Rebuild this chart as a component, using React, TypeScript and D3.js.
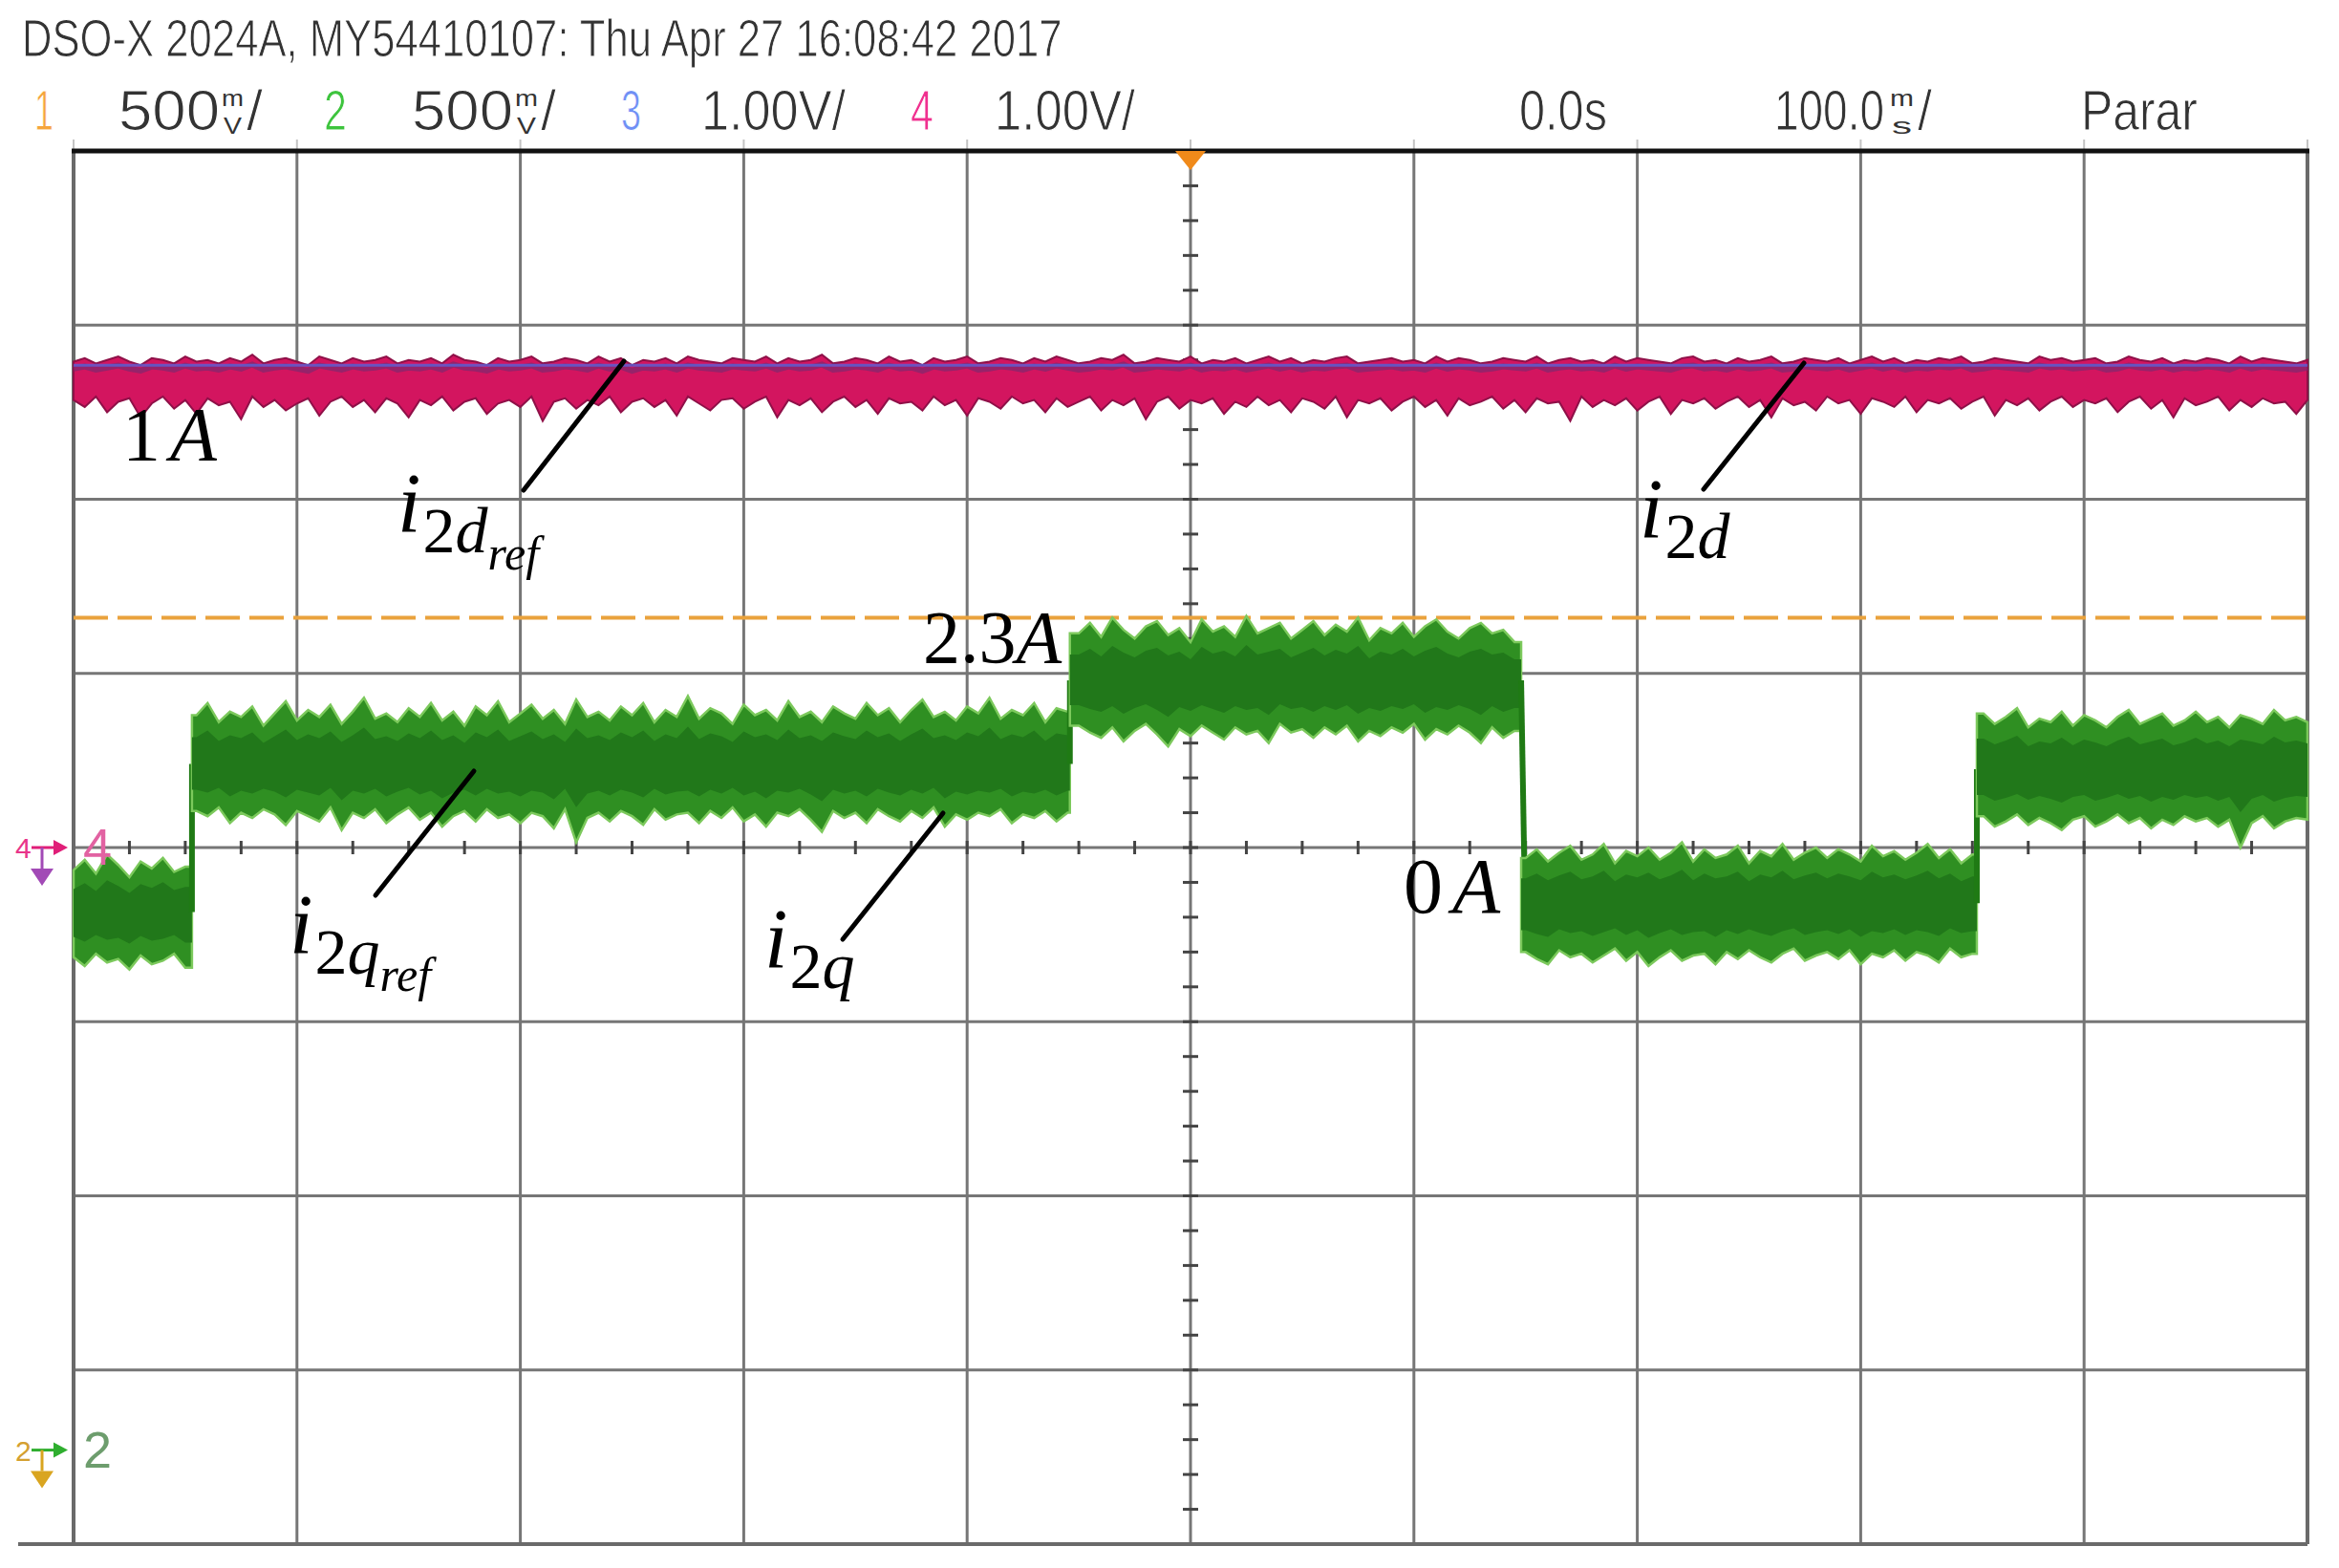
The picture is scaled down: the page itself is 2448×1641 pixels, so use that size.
import React, { useEffect, useRef } from 'react';
import * as d3 from 'd3';

const W = 2448;
const H = 1641;

// horizontal: 100 ms/div, 0.0 s at the centre of the screen
const gridTimes = [-400, -300, -200, -100, 0, 100, 200, 300, 400];
// vertical: divisions from the centre line
const gridDivs = [-3, -2, -1, 0, 1, 2, 3];

// ch2 (green, i2q): step levels between the break times (ms), in div
const greenBreaks = [-500, -447, -54, 148, 352, 500];
const greenLevels = [-0.37, 0.48, 0.96, -0.32, 0.45];
// noise envelope above / below the level, 1/100 div, one value every 5 ms
const greenUp = [
  24, 30, 22, 33, 27, 20, 29, 25, 31, 23,
  26, 28, 35, 24, 30, 27, 33, 22, 29, 36,
  25, 31, 27, 34, 23, 30, 38, 26, 29, 24,
  32, 27, 35, 25, 30, 22, 33, 28, 36, 24,
  29, 34, 26, 31, 23, 37, 27, 30, 25, 33,
  28, 35, 24, 31, 27, 39, 26, 32, 29, 23,
  34, 28, 31, 25, 36, 27, 30, 24, 33, 29,
  26, 35, 28, 32, 24, 31, 37, 27, 30, 25,
  33, 29, 38, 26, 31, 28, 35, 24, 32, 30,
  27, 33, 25, 36, 29, 24, 31, 34, 26, 30,
  22, 35, 28, 31, 25, 37, 27, 30, 33, 24,
  29, 34, 26, 32, 28, 36, 23, 30, 27, 33,
  25, 31, 35, 28, 24, 30, 33, 27, 29, 22,
  26, 31, 24, 29, 33, 25, 28, 34, 23, 30,
  27, 32, 25, 29, 35, 24, 31, 26, 28, 33,
  23, 30, 27, 34, 25, 29, 32, 26, 31, 28,
  24, 33, 27, 30, 25, 29, 34, 26, 31, 23,
  28, 32, 26, 30, 35, 24, 29, 27, 33, 25,
  31, 28, 24, 30, 34, 26, 29, 32, 25, 28,
  33, 27, 30, 24, 31, 29, 26, 34, 28, 30,
  27,
];
const greenDown = [
  26, 31, 24, 29, 27, 33, 25, 30, 28, 24,
  32, 27, 30, 25, 34, 28, 31, 26, 29, 35,
  27, 30, 33, 25, 38, 28, 31, 26, 34, 29,
  25, 32, 28, 36, 30, 27, 33, 26, 31, 29,
  34, 28, 30, 37, 26, 45, 31, 28, 33, 27,
  30, 35, 26, 32, 29, 28, 34, 27, 31, 25,
  33, 29, 36, 28, 30, 26, 32, 39, 27, 31,
  28, 34, 26, 30, 33, 27, 31, 25, 36, 29,
  32, 28, 30, 26, 34, 29, 31, 27, 33, 28,
  26, 30, 33, 27, 35, 29, 25, 31, 38, 28,
  32, 26, 30, 34, 27, 31, 29, 36, 25, 30,
  28, 33, 27, 31, 26, 35, 29, 32, 27, 30,
  25, 34, 28, 31, 26, 30, 36, 27, 33, 29,
  28, 32, 35, 27, 31, 29, 34, 30, 26, 33,
  28, 36, 31, 27, 33, 30, 29, 35, 28, 32,
  27, 31, 34, 29, 26, 33, 30, 28, 32, 27,
  35, 29, 31, 27, 33, 28, 30, 34, 26, 31,
  29, 27, 33, 30, 26, 32, 28, 31, 35, 29,
  27, 33, 30, 26, 31, 28, 34, 29, 32, 27,
  30, 28, 33, 29, 45, 31, 27, 34, 30, 28,
  29,
];

// ch4 (pink, i2d)
const pinkLevel = 2.69;
const pinkUp = [
  10, 12, 9, 11, 13, 10, 8, 12, 11, 9,
  13, 10, 11, 9, 12, 10, 14, 9, 11, 12,
  10, 8, 13, 11, 9, 12, 10, 11, 13, 9,
  11, 10, 12, 9, 14, 11, 10, 8, 12, 10,
  11, 13, 9, 10, 12, 11, 9, 13, 10, 12,
  8, 11, 10, 12, 9, 13, 11, 10, 9, 12,
  11, 10, 13, 9, 12, 10, 11, 14, 9, 10,
  12, 11, 9, 13, 10, 11, 8, 12, 10, 11,
  13, 9, 10, 12, 11, 9, 12, 10, 13, 11,
  9, 10, 12, 11, 14, 9, 10, 12, 11, 10,
  13, 9, 11, 10, 12, 9, 11, 13, 10, 12,
  9, 11, 10, 12, 13, 9, 10, 11, 12, 10,
  11, 9, 13, 10, 12, 11, 9, 10, 12, 11,
  10, 13, 9, 11, 12, 10, 11, 9, 13, 10,
  12, 11, 10, 9, 12, 13, 10, 11, 9, 12,
  10, 11, 13, 9, 10, 12, 11, 10, 12, 9,
  11, 13, 10, 12, 9, 11, 10, 12, 11, 13,
  9, 10, 12, 11, 10, 9, 13, 11, 12, 10,
  11, 12, 9, 10, 13, 11, 10, 12, 9, 11,
  10, 12, 11, 9, 13, 10, 12, 11, 10, 9,
  11,
];
const pinkDown = [
  12, 16, 10, 19, 13, 11, 22, 14, 10, 17,
  12, 20, 11, 15, 13, 23, 10, 16, 12, 18,
  14, 11, 21, 13, 10, 16, 12, 19, 11, 14,
  22, 12, 15, 10, 18, 13, 11, 20, 14, 12,
  16, 10, 24, 13, 11, 17, 12, 15, 10, 19,
  13, 11, 16, 12, 21, 10, 14, 18, 12, 11,
  17, 13, 10, 22, 12, 15, 11, 19, 13, 10,
  16, 12, 20, 11, 14, 13, 18, 10, 15, 12,
  21, 11, 13, 17, 10, 14, 12, 19, 11, 16,
  13, 10, 18, 12, 15, 11, 23, 13, 10, 17,
  12, 14, 11, 20, 13, 16, 10, 15, 12, 19,
  11, 13, 17, 10, 22, 12, 14, 11, 18, 13,
  10, 16, 12, 21, 11, 15, 13, 10, 17, 12,
  19, 11, 14, 13, 24, 10, 16, 12, 15, 11,
  18, 13, 10, 20, 12, 14, 11, 17, 13, 10,
  16, 12, 22, 11, 15, 13, 18, 10, 14, 12,
  20, 11, 13, 16, 10, 19, 12, 14, 11, 17,
  13, 10, 21, 12, 15, 11, 18, 13, 10, 16,
  12, 14, 11, 19, 13, 10, 17, 12, 22, 11,
  15, 13, 10, 18, 12, 16, 11, 14, 13, 20,
  12,
];

// ch3 (blue, i2d_ref) and ch1 (orange dashed, reference)
const blueLevel = 2.77;
const orangeLevel = 1.32;

// ground markers on the left edge, div
const ch4Ground = 0;
const ch2Ground = -3.46;

const SANS = "'Liberation Sans Narrow', 'Liberation Sans', Arial, sans-serif";
const SERIF = "'Liberation Serif', 'Times New Roman', serif";
const INK = '#333';

type P = { t: number; up: number; dn: number };

const App: React.FC = () => {
  const svgRef = useRef<SVGSVGElement>(null);

  useEffect(() => {
    if (!svgRef.current) return;
    const svg = d3.select(svgRef.current);
    svg.selectAll('*').remove();

    const x = d3.scaleLinear().domain([-500, 500]).range([77, 2415]);
    const y = d3.scaleLinear().domain([-4, 4]).range([1616, 158]);
    const tAt = (i: number) => -500 + 5 * i;

    svg.append('rect').attr('width', W).attr('height', H).attr('fill', '#fff');

    // grid
    const grid = svg.append('g').attr('stroke', '#767676').attr('stroke-width', 3);
    grid.append('g').selectAll('line').data(gridTimes).join('line')
      .attr('x1', d => x(d)).attr('x2', d => x(d))
      .attr('y1', y(4)).attr('y2', y(-4));
    grid.append('g').selectAll('line').data(gridDivs).join('line')
      .attr('x1', x(-500)).attr('x2', x(500))
      .attr('y1', d => y(d)).attr('y2', d => y(d));

    // minor ticks on the centre lines
    const ticks = svg.append('g').attr('stroke', '#444').attr('stroke-width', 3);
    ticks.append('g').selectAll('line').data(d3.range(-500, 501, 25)).join('line')
      .attr('x1', d => x(d)).attr('x2', d => x(d))
      .attr('y1', y(0) - 7).attr('y2', y(0) + 7);
    ticks.append('g').selectAll('line').data(d3.range(-4, 4.001, 0.2)).join('line')
      .attr('x1', x(0) - 8).attr('x2', x(0) + 8)
      .attr('y1', d => y(d)).attr('y2', d => y(d));

    // little marks above the top edge
    svg.append('g').selectAll('line').data([-500, ...gridTimes, 500]).join('line')
      .attr('x1', d => x(d)).attr('x2', d => x(d))
      .attr('y1', y(4) - 12).attr('y2', y(4))
      .attr('stroke', '#c4c4c4').attr('stroke-width', 2);

    // frame
    const frame = svg.append('g');
    frame.append('line').attr('x1', x(-500)).attr('x2', x(-500)).attr('y1', y(4)).attr('y2', y(-4))
      .attr('stroke', '#6a6a6a').attr('stroke-width', 4);
    frame.append('line').attr('x1', x(500)).attr('x2', x(500)).attr('y1', y(4)).attr('y2', y(-4))
      .attr('stroke', '#6a6a6a').attr('stroke-width', 4);
    frame.append('line').attr('x1', 19).attr('x2', x(500)).attr('y1', y(-4)).attr('y2', y(-4))
      .attr('stroke', '#6a6a6a').attr('stroke-width', 4);
    frame.append('line').attr('x1', x(-500) - 2).attr('x2', x(500) + 2).attr('y1', y(4)).attr('y2', y(4))
      .attr('stroke', '#111').attr('stroke-width', 5);

    const traces = svg.append('g');

    // ch1 orange dashed
    traces.append('line')
      .attr('x1', x(-500)).attr('x2', x(500))
      .attr('y1', y(orangeLevel)).attr('y2', y(orangeLevel))
      .attr('stroke', '#eaa23c').attr('stroke-width', 4)
      .attr('stroke-dasharray', '36 10');

    // ch4 pink band
    const pinkPts: P[] = pinkUp.map((u, i) => ({ t: tAt(i), up: u / 100, dn: pinkDown[i] / 100 }));
    const pinkArea = d3.area<P>()
      .x(d => x(d.t))
      .y0(d => y(pinkLevel - d.dn))
      .y1(d => y(pinkLevel + d.up));
    traces.append('path').attr('d', pinkArea(pinkPts))
      .attr('fill', '#d3155f').attr('stroke', '#8f1048').attr('stroke-width', 2);
    const pinkTop = d3.line<P>().x(d => x(d.t)).y(d => y(pinkLevel + d.up * 0.6));
    traces.append('path').attr('d', pinkTop(pinkPts))
      .attr('fill', 'none').attr('stroke', '#82286e').attr('stroke-width', 6).attr('opacity', 0.75);

    // ch3 blue
    traces.append('line')
      .attr('x1', x(-500)).attr('x2', x(500))
      .attr('y1', y(blueLevel)).attr('y2', y(blueLevel))
      .attr('stroke', '#5466e0').attr('stroke-width', 3).attr('opacity', 0.75);

    // ch2 green steps
    greenLevels.forEach((lvl, k) => {
      const t0 = greenBreaks[k];
      const t1 = greenBreaks[k + 1];
      const pts: P[] = [];
      greenUp.forEach((u, i) => {
        const t = tAt(i);
        if (t >= t0 && t <= t1) pts.push({ t, up: u / 100, dn: greenDown[i] / 100 });
      });
      if (pts[0].t > t0) pts.unshift({ ...pts[0], t: t0 });
      if (pts[pts.length - 1].t < t1) pts.push({ ...pts[pts.length - 1], t: t1 });

      const outer = d3.area<P>().x(d => x(d.t))
        .y0(d => y(lvl - d.dn)).y1(d => y(lvl + d.up));
      const inner = d3.area<P>().x(d => x(d.t))
        .y0(d => y(lvl - d.dn * 0.55)).y1(d => y(lvl + d.up * 0.55));
      traces.append('path').attr('d', outer(pts))
        .attr('fill', '#2f8f22').attr('stroke', '#7cc95c').attr('stroke-width', 2.5);
      traces.append('path').attr('d', inner(pts)).attr('fill', '#21781a');

      if (k < greenLevels.length - 1) {
        traces.append('line')
          .attr('x1', x(t1)).attr('x2', x(t1) + (greenLevels[k + 1] < lvl ? 4 : 0))
          .attr('y1', y(lvl)).attr('y2', y(greenLevels[k + 1]))
          .attr('stroke', '#1f7a14').attr('stroke-width', 6);
      }
    });

    // trigger marker
    svg.append('path')
      .attr('d', `M${x(0) - 16},${y(4)} L${x(0) + 16},${y(4)} L${x(0)},${y(4) + 20} Z`)
      .attr('fill', '#f08a1a');

    // ground markers
    const marker = (div: number, label: string, small: string, arrow: string, gnd: string, big: string) => {
      const g = svg.append('g');
      const cy = y(div);
      g.append('text').attr('x', 16).attr('y', cy + 11).attr('font-family', SANS)
        .attr('font-size', 30).attr('fill', small).text(label);
      g.append('line').attr('x1', 33).attr('x2', 60).attr('y1', cy).attr('y2', cy)
        .attr('stroke', arrow).attr('stroke-width', 3);
      g.append('path').attr('d', `M56,${cy - 8} L71,${cy} L56,${cy + 8} Z`).attr('fill', arrow);
      g.append('line').attr('x1', 44).attr('x2', 44).attr('y1', cy).attr('y2', cy + 22)
        .attr('stroke', gnd).attr('stroke-width', 3);
      g.append('path').attr('d', `M32,${cy + 22} L56,${cy + 22} L44,${cy + 40} Z`).attr('fill', gnd);
      g.append('text').attr('x', 87).attr('y', cy + 18).attr('font-family', SANS)
        .attr('font-size', 54).attr('fill', big).text(label);
    };
    marker(ch4Ground, '4', '#e8348a', '#e01e78', '#a24ab6', '#e262a2');
    marker(ch2Ground, '2', '#d4a030', '#2fae2f', '#d9a520', '#6d9d6d');

    // header texts, squeezed horizontally to the scope's narrow font
    const hdr = (txt: string, x0: number, w: number, color = INK, size = 60, yb = 136) => {
      const t = svg.append('text')
        .attr('font-family', SANS).attr('font-size', size).attr('fill', color)
        .attr('stroke', '#fff').attr('stroke-width', size > 40 ? 1 : 0)
        .text(txt);
      const nat = (t.node() as SVGTextElement).getComputedTextLength() || w;
      t.attr('transform', `translate(${x0},${yb}) scale(${w / nat},1)`);
      return t;
    };
    const stacked = (x0: number, w: number, top: string, bottom: string) => {
      hdr(top, x0, w, INK, 24, 111);
      hdr(bottom, x0 + 2, w - 4, INK, 24, 140);
    };

    hdr('DSO-X 2024A, MY54410107: Thu Apr 27 16:08:42 2017', 23, 1089, INK, 56, 59);

    hdr('1', 36, 20, '#f5a43c');
    hdr('500', 124, 106); stacked(232, 23, 'm', 'V'); hdr('/', 258, 17);
    hdr('2', 339, 24, '#3dc43d');
    hdr('500', 431, 106); stacked(539, 24, 'm', 'V'); hdr('/', 566, 16);
    hdr('3', 650, 21, '#6f8ff5');
    hdr('1.00V/', 734, 151);
    hdr('4', 953, 24, '#f0308f');
    hdr('1.00V/', 1041, 147);
    hdr('0.0s', 1590, 92);
    hdr('100.0', 1857, 115); stacked(1978, 25, 'm', 's'); hdr('/', 2007, 15);
    hdr('Parar', 2178, 122);

    // annotations
    const ann = svg.append('g').attr('font-family', SERIF).attr('fill', '#000');
    const leader = (x1: number, y1: number, x2: number, y2: number) =>
      ann.append('line').attr('x1', x1).attr('y1', y1).attr('x2', x2).attr('y2', y2)
        .attr('stroke', '#000').attr('stroke-width', 5).attr('stroke-linecap', 'round');

    const plain = (x0: number, yb: number, num: string, size: number, gap: number) => {
      const t = ann.append('text').attr('x', x0).attr('y', yb).attr('font-size', size);
      t.append('tspan').text(num);
      t.append('tspan').attr('dx', gap).attr('font-style', 'italic').text('A');
    };
    plain(128, 482, '1', 80, 10);
    plain(966, 693, '2.3', 78, 0);
    plain(1469, 955, '0', 82, 10);

    const cur = (x0: number, yb: number, sub: string, ref: boolean) => {
      const t = ann.append('text').attr('x', x0).attr('y', yb);
      t.append('tspan').attr('font-size', 88).attr('font-style', 'italic').text('i');
      t.append('tspan').attr('font-size', 68).attr('dx', 2).attr('dy', 22).text('2');
      t.append('tspan').attr('font-size', 68).attr('font-style', 'italic').text(sub);
      if (ref) t.append('tspan').attr('font-size', 50).attr('font-style', 'italic').attr('dy', 18).text('ref');
    };
    cur(416, 556, 'd', true);
    leader(548, 513, 653, 378);
    cur(1716, 562, 'd', false);
    leader(1783, 512, 1888, 380);
    cur(303, 997, 'q', true);
    leader(393, 937, 496, 807);
    cur(800, 1012, 'q', false);
    leader(882, 983, 987, 851);
  }, []);

  return (
    <svg
      ref={svgRef}
      width={W}
      height={H}
      style={{ position: 'absolute', left: 0, top: 0, display: 'block' }}
    />
  );
};

export default App;
